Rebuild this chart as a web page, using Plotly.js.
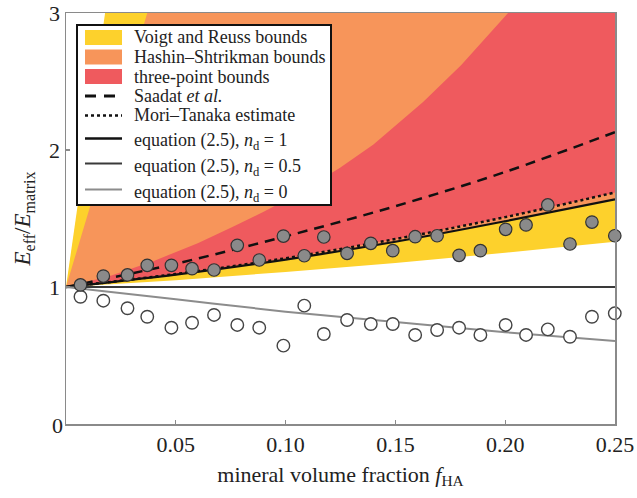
<!DOCTYPE html>
<html>
<head>
<meta charset="utf-8">
<script src="https://cdn.plot.ly/plotly-3.0.1.min.js"></script>
<style>html,body{margin:0;padding:0;background:#fff}#chart{width:637px;height:498px}</style>
</head>
<body>
<div id="chart"></div>
<script>
// ---- data ----
var fData = [0.0066,0.017,0.028,0.037,0.048,0.0574,0.0674,0.078,0.088,0.099,0.1085,0.1174,0.128,0.1388,0.1488,0.159,0.169,0.179,0.1887,0.2002,0.2095,0.2194,0.2295,0.2395,0.2499];
var filledE = [1.015,1.08,1.088,1.158,1.158,1.134,1.124,1.304,1.197,1.372,1.228,1.365,1.246,1.319,1.265,1.367,1.374,1.231,1.265,1.421,1.453,1.599,1.314,1.474,1.374];
var openE   = [0.929,0.90,0.845,0.783,0.703,0.739,0.796,0.723,0.703,0.572,0.864,0.657,0.759,0.73,0.73,0.65,0.686,0.703,0.65,0.723,0.65,0.691,0.637,0.783,0.808];

// curves (sampled on fCurve)
var fCurve   = [0, 0.05, 0.10, 0.15, 0.20, 0.25];
var reussLow = [1, 1.05, 1.11, 1.175, 1.25, 1.33];
var hsLow    = [1, 1.09, 1.20, 1.33, 1.48, 1.64];
var tpLow    = [1, 1.095, 1.21, 1.35, 1.51, 1.69];
var saadat   = [1, 1.17, 1.37, 1.59, 1.84, 2.13];
var moriT    = [1, 1.095, 1.21, 1.35, 1.51, 1.69];
var eqN1     = [1, 1.09, 1.20, 1.33, 1.48, 1.64];
var eqN05    = [1, 1, 1, 1, 1, 1];
var eqN0     = [1, 0.91, 0.82, 0.745, 0.67, 0.605];

// upper bounds
var voigtF = [0, 0.0178];
var voigtE = [1, 3.0];
var hsUpF  = [0, 0.011, 0.037];
var hsUpE  = [1, 1.59, 3.0];
var tpUpF  = [0, 0.02, 0.04, 0.06, 0.076, 0.09, 0.105, 0.1248, 0.14, 0.1626, 0.18, 0.2013];
var tpUpE  = [1, 1.08, 1.19, 1.32, 1.44, 1.55, 1.675, 1.87, 2.04, 2.35, 2.62, 3.0];

var xTicks = [0.05, 0.10, 0.15, 0.20, 0.25];
var xTickText = ['0.05', '0.10', '0.15', '0.20', '0.25'];
var yTicks = [1, 2, 3];
var yTickText = ['1', '2', '3'];

var legendLabels = ['Voigt and Reuss bounds', 'Hashin–Shtrikman bounds', 'three-point bounds',
  'Saadat <i>et al.</i>', 'Mori–Tanaka estimate',
  'equation (2.5), <i>n</i><sub>d</sub> = 1', 'equation (2.5), <i>n</i><sub>d</sub> = 0.5', 'equation (2.5), <i>n</i><sub>d</sub> = 0'];

var YELLOW = '#FDD12C', ORANGE = '#F7955A', RED = '#EF5A5E';
var FONT = 'Liberation Serif';

function band(lowF, lowE, upF, upE) {
  var xs = lowF.slice(), ys = lowE.slice();
  xs.push(lowF[lowF.length - 1]); ys.push(3);
  for (var i = upF.length - 1; i >= 0; i--) { xs.push(upF[i]); ys.push(upE[i]); }
  return {x: xs, y: ys};
}
var yb = band(fCurve, reussLow, voigtF, voigtE);
var ob = band(fCurve, hsLow, hsUpF, hsUpE);
var rb = band(fCurve, tpLow, tpUpF, tpUpE);

function poly(b, color) {
  return {x: b.x, y: b.y, type: 'scatter', mode: 'lines', fill: 'toself', fillcolor: color,
          line: {width: 0, color: color}, hoverinfo: 'skip', showlegend: false};
}
function curve(y, color, width, dash) {
  return {x: fCurve, y: y, type: 'scatter', mode: 'lines', showlegend: false,
          line: {color: color, width: width, dash: dash, shape: 'spline'}};
}

var styles = [
  {kind: 'fill', color: YELLOW}, {kind: 'fill', color: ORANGE}, {kind: 'fill', color: RED},
  {kind: 'line', color: '#111', width: 3, dash: '11px,8px'},
  {kind: 'line', color: '#111', width: 2.5, dash: 'dot'},
  {kind: 'line', color: '#111', width: 2.5, dash: 'solid'},
  {kind: 'line', color: '#3a3a3a', width: 2.2, dash: 'solid'},
  {kind: 'line', color: '#8c8c8c', width: 2.2, dash: 'solid'}
];

var traces = [
  poly(yb, YELLOW), poly(ob, ORANGE), poly(rb, RED),
  curve(saadat, '#111', 2.5, '10px,7px'),
  curve(moriT, '#111', 2.5, 'dot'),
  curve(eqN1, '#111', 2.2, 'solid'),
  curve(eqN05, '#3a3a3a', 2, 'solid'),
  curve(eqN0, '#8c8c8c', 2, 'solid'),
  {x: fData, y: openE, type: 'scatter', mode: 'markers', showlegend: false, cliponaxis: false,
   marker: {size: 12.5, color: '#ffffff', line: {color: '#444', width: 1.4}}},
  {x: fData, y: filledE, type: 'scatter', mode: 'markers', showlegend: false, cliponaxis: false,
   marker: {size: 12.5, color: '#8a8a8a', line: {color: '#333', width: 1.2}}}
];

// ---- manual legend (pixel layout converted to paper coords) ----
var PL = 66, PR = 615, PT = 13, PB = 424;
function px(X) { return (X - PL) / (PR - PL); }
function py(Y) { return (PB - Y) / (PB - PT); }
var rowY = [37.5, 57, 76.5, 96, 115.5, 138.5, 163.5, 189.5];
var shapes = [{type: 'rect', xref: 'paper', yref: 'paper', x0: px(77), x1: px(331), y0: py(205), y1: py(25),
               fillcolor: '#fff', line: {color: '#111', width: 2}, layer: 'above'}];
var annotations = [];
styles.forEach(function (s, i) {
  var yc = rowY[i];
  if (s.kind === 'fill') {
    shapes.push({type: 'rect', xref: 'paper', yref: 'paper', x0: px(85), x1: px(122), y0: py(yc + 7.5), y1: py(yc - 7.5),
                 fillcolor: s.color, line: {width: 0}, layer: 'above'});
  } else {
    shapes.push({type: 'line', xref: 'paper', yref: 'paper', x0: px(85), x1: px(122), y0: py(yc), y1: py(yc),
                 line: {color: s.color, width: s.width, dash: s.dash}, layer: 'above'});
  }
  var hasSub = legendLabels[i].indexOf('<sub>') >= 0;
  annotations.push({xref: 'paper', yref: 'paper', x: px(132), y: py(yc + (hasSub ? 3.5 : 0)), xanchor: 'left', yanchor: 'middle',
                    text: legendLabels[i], showarrow: false, font: {family: FONT, size: 18, color: '#222'}});
});
annotations.push({xref: 'paper', yref: 'paper', x: 0, y: 0, xshift: -16, yshift: -16, text: '0', showarrow: false,
                  font: {family: FONT, size: 22, color: '#222'}});

var axisCommon = {
  showline: true, mirror: true, linecolor: '#8a8a8a', linewidth: 1.5,
  showgrid: false, zeroline: false, ticks: 'inside', ticklen: 4, tickcolor: '#8a8a8a', tickwidth: 1.2,
  tickfont: {family: FONT, size: 22, color: '#222'}
};

var layout = {
  width: 637, height: 498,
  margin: {l: PL, r: 637 - PR, t: PT, b: 498 - PB},
  paper_bgcolor: '#fff', plot_bgcolor: '#fff',
  font: {family: FONT, color: '#222'},
  showlegend: false,
  xaxis: Object.assign({}, axisCommon, {
    range: [0, 0.25], tickvals: xTicks, ticktext: xTickText,
    title: {text: 'mineral volume fraction <i>f</i><sub>HA</sub>', font: {family: FONT, size: 22, color: '#222'}, standoff: 10}
  }),
  yaxis: Object.assign({}, axisCommon, {
    range: [0, 3], tickvals: yTicks, ticktext: yTickText,
    title: {text: '<i>E</i><sub>eff</sub>/<i>E</i><sub>matrix</sub>', font: {family: FONT, size: 23, color: '#222'}, standoff: 12}
  }),
  shapes: shapes,
  annotations: annotations
};

Plotly.newPlot('chart', traces, layout, {displayModeBar: false, staticPlot: true});
</script>
</body>
</html>
